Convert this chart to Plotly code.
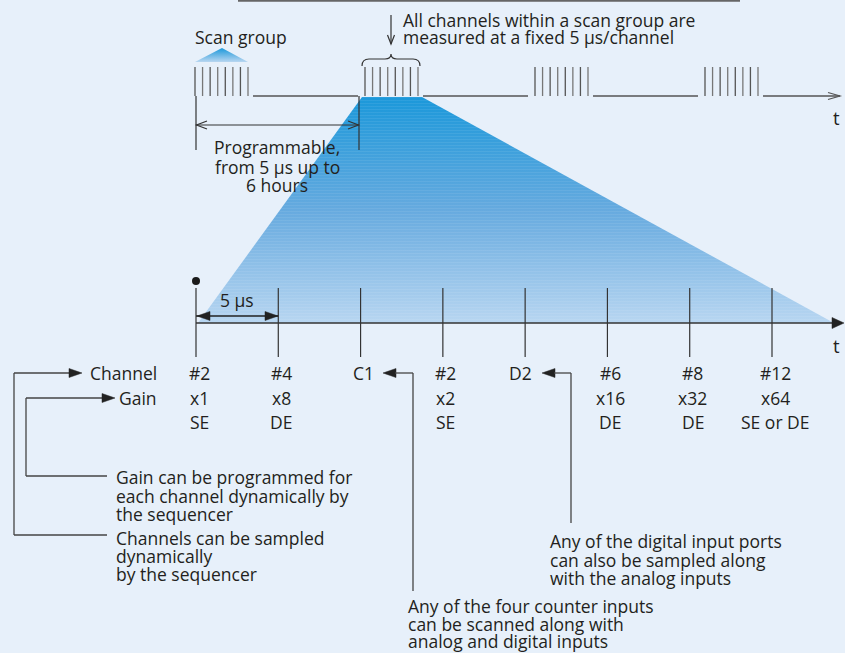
import plotly.graph_objects as go

W, H = 845, 653
BG = "#E7F0FA"
INK = "#231F20"
LINE = "#555555"
LEAD = "#444444"
FONT = "Open Sans"
FS = 17.5

# ---------------- data ----------------
# Lower timeline: one sample every 5 µs
sample_times_us = [0, 5, 10, 15, 20, 25, 30, 35]
channel_labels = ["#2", "#4", "C1", "#2", "D2", "#6", "#8", "#12"]
gain_labels = ["x1", "x8", "", "x2", "", "x16", "x32", "x64"]
mode_labels = ["SE", "DE", "", "SE", "", "DE", "DE", "SE or DE"]

# Upper timeline: scan groups of 8 channels
scan_group_starts = [195, 365, 535, 705]
channels_per_group = 8

fig = go.Figure()
shapes = []
ann = []


def line(x0, y0, x1, y1, color=LINE, w=1.3, xref="x"):
    shapes.append(dict(type="line", x0=x0, y0=y0, x1=x1, y1=y1, xref=xref, yref="y",
                       line=dict(color=color, width=w)))


def path(d, fill=None, color=LINE, w=1.3):
    s = dict(type="path", path=d, xref="x", yref="y", line=dict(color=color, width=w))
    if fill:
        s["fillcolor"] = fill
        s["line"] = dict(color=fill, width=0.5)
    shapes.append(s)


def text(x, y, t, anchor="left", size=FS, xref="x", xshift=0):
    ann.append(dict(x=x, y=y, xref=xref, yref="y", text=t, showarrow=False,
                    xanchor=anchor, yanchor="middle", xshift=xshift,
                    font=dict(family=FONT, size=size, color=INK)))


# ---------------- fan (gradient) ----------------
fan_x = [362, 422, 834, 198, 362]
fan_y = [97, 97, 323, 323, 97]
fig.add_trace(go.Scatter(x=fan_x, y=fan_y, mode="lines", fill="toself", line=dict(width=0),
                         fillgradient=dict(type="vertical", start=97, stop=323,
                                           colorscale=[[0, "#1B98DA"], [0.5, "#66AADF"], [1, "#B8D6F1"]]),
                         hoverinfo="skip", showlegend=False))
fig.add_trace(go.Scatter(x=fan_x, y=fan_y, mode="lines", fill="toself", line=dict(width=0),
                         fillcolor="rgba(0,0,0,0)",
                         fillpattern=dict(shape="-", size=3, solidity=0.25,
                                          fgcolor="rgba(255,255,255,0.18)", bgcolor="rgba(0,0,0,0)"),
                         hoverinfo="skip", showlegend=False))

# small "scan group" triangle
fig.add_trace(go.Scatter(x=[222, 248, 195, 222], y=[48, 62, 62, 48], mode="lines", fill="toself",
                         line=dict(width=0),
                         fillgradient=dict(type="vertical", start=48, stop=62,
                                           colorscale=[[0, "#1B98DA"], [1, "#B8D6F1"]]),
                         hoverinfo="skip", showlegend=False))

# ---------------- upper timeline ----------------
line(238, 0.8, 740, 0.8, color="#666666", w=1.8)
gw = 53
for g0 in scan_group_starts:
    for k in range(channels_per_group):
        xx = g0 + k * gw / (channels_per_group - 1)
        line(xx, 67, xx, 96, color="#555555" if k % 2 == 0 else "#777777", w=1.3)
for i, g0 in enumerate(scan_group_starts):
    a = g0 + gw + 5
    b = scan_group_starts[i + 1] - 7 if i + 1 < len(scan_group_starts) else 840
    line(a, 96, b, 96)
path("M 828,92.5 L 840,96 L 828,99.5", w=1.2)
text(831, 117, "t", size=FS + 1)

# brace + down arrow
path("M 362,66 Q 362,59 369,59 L 385,59 Q 391,59 391,54 Q 391,59 397,59 L 413,59 Q 420,59 420,66",
     color="#333333", w=1.2)
line(391, 15, 391, 44, color="#333333", w=1.2)
path("M 387.5,35 L 391,44 L 394.5,35", color="#333333", w=1.2)
text(401, 20, "All channels within a scan group are")
text(401, 37, "measured at a fixed 5 µs/channel")
text(193, 37, "Scan group")

# programmable interval
line(196, 96, 196, 150, color="#333333", w=1.2)
line(359, 96, 359, 150, color="#333333", w=1.2)
line(196, 125, 359, 125, color="#333333", w=1.2)
path("M 207,121 L 196.5,125 L 207,129", color="#333333", w=1.2)
path("M 348,121 L 358.5,125 L 348,129", color="#333333", w=1.2)
text(277, 147, "Programmable,", anchor="center")
text(277, 167, "from 5 µs up to", anchor="center")
text(277, 185, "6 hours", anchor="center")

# ---------------- lower timeline ----------------
line(196, 323, 832, 323, color="#333333", w=1.3)
path("M 832,317.5 L 844,323 L 832,328.5 Z", fill="#222222")
text(831, 345, "t", size=FS + 1)

for t in sample_times_us:
    line(t, 288, t, 357, color="#333333", w=1.2, xref="x2")
fig.add_trace(go.Scatter(x=[sample_times_us[0]], y=[281], xaxis="x2", yaxis="y", mode="markers",
                         marker=dict(size=8, color="#1A1A1A"), hoverinfo="skip", showlegend=False))

# 5 µs dimension
line(sample_times_us[0], 316, sample_times_us[1], 316, color="#222222", w=1.3, xref="x2")
path("M 197,316 L 210,311.5 L 210,320.5 Z", fill="#222222")
path("M 278,316 L 265,311.5 L 265,320.5 Z", fill="#222222")
text((sample_times_us[0] + sample_times_us[1]) / 2, 300, "5 µs", anchor="center", xref="x2")

for t, c, g, m in zip(sample_times_us, channel_labels, gain_labels, mode_labels):
    if c == "D2":
        text(t, 373, c, anchor="right", xref="x2", xshift=9)
    else:
        text(t, 373, c, anchor="center", xref="x2", xshift=3)
    if g:
        text(t, 398, g, anchor="center", xref="x2", xshift=3)
    if m:
        text(t, 422, m, anchor="center", xref="x2", xshift=3)

# row headers with leaders
text(159, 373, "Channel", anchor="right")
text(159, 398, "Gain", anchor="right")
line(14, 373, 70, 373, color=LEAD)
path("M 82,373 L 69,368.5 L 69,377.5 Z", fill="#222222")
line(26, 398, 103, 398, color=LEAD)
path("M 115,398 L 102,393.5 L 102,402.5 Z", fill="#222222")
line(14, 373, 14, 535, color=LEAD)
line(14, 535, 107, 535, color=LEAD)
line(26, 398, 26, 476, color=LEAD)
line(26, 476, 107, 476, color=LEAD)

text(114, 477, "Gain can be programmed for")
text(114, 496, "each channel dynamically by")
text(114, 514, "the sequencer")
text(114, 538, "Channels can be sampled")
text(114, 556, "dynamically")
text(114, 574, "by the sequencer")

# counter / digital leaders
path("M 383,373 L 396,368.5 L 396,377.5 Z", fill="#222222")
line(395, 373, 413, 373, color=LEAD)
line(413, 373, 413, 591, color=LEAD)
path("M 542,373 L 555,368.5 L 555,377.5 Z", fill="#222222")
line(554, 373, 571, 373, color=LEAD)
line(571, 373, 571, 523, color=LEAD)

text(406, 606, "Any of the four counter inputs")
text(406, 624, "can be scanned along with")
text(406, 641, "analog and digital inputs")
text(548, 541, "Any of the digital input ports")
text(548, 560, "can also be sampled along")
text(548, 578, "with the analog inputs")

# ---------------- layout ----------------
px_per_us = 576 / 35
r0 = -196 / px_per_us
r1 = r0 + W / px_per_us
fig.update_layout(
    width=W, height=H, margin=dict(l=0, r=0, t=0, b=0),
    paper_bgcolor=BG, plot_bgcolor=BG, showlegend=False,
    xaxis=dict(range=[0, W], visible=False, fixedrange=True),
    xaxis2=dict(range=[r0, r1], visible=False, overlaying="x", anchor="y", fixedrange=True),
    yaxis=dict(range=[H, 0], visible=False, fixedrange=True),
    shapes=shapes, annotations=ann,
)
fig.write_html("out.html", config={"displayModeBar": False},
               post_script="document.body.style.margin='0';document.body.style.padding='0';"
                           "document.documentElement.style.overflow='hidden';")
